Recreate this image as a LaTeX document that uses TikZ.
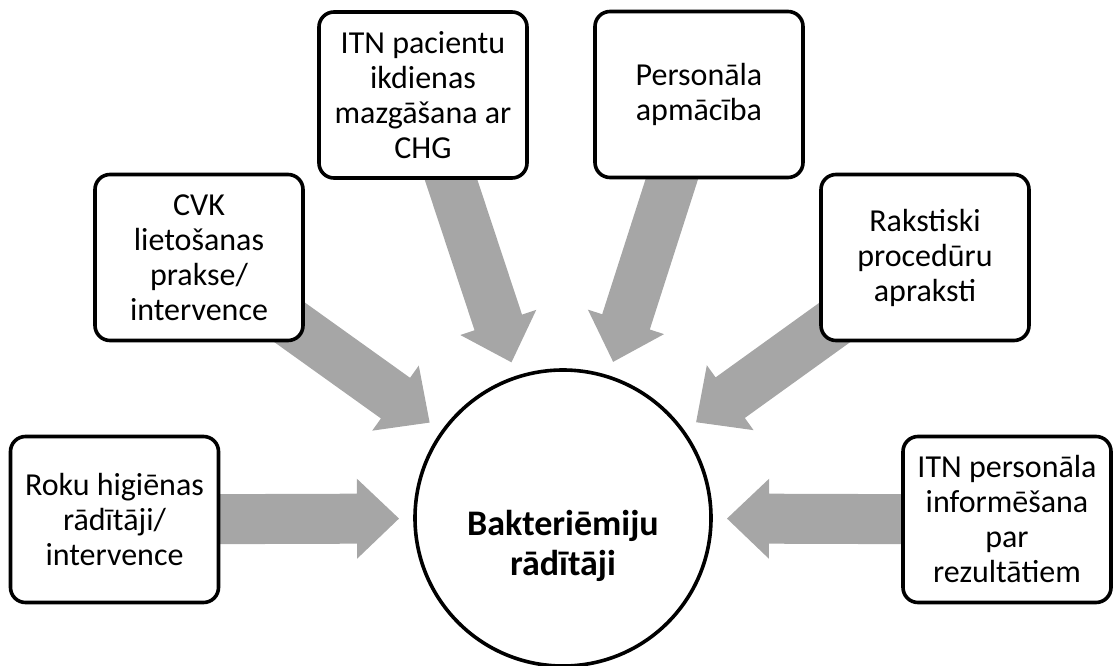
\documentclass[tikz,border=0pt]{standalone}
\usepackage{fontspec}
\setmainfont{Carlito}
\usetikzlibrary{calc}
\pgfdeclarelayer{bg}
\pgfsetlayers{bg,main}
\definecolor{arrowgray}{RGB}{166,166,166}
\tikzset{
  boxnode/.style={draw=black, line width=3.6pt, fill=white, rounded corners=15pt,
    minimum width=208pt, minimum height=166pt, inner sep=0pt, align=center,
    font=\fontsize{32pt}{35pt}\selectfont},
  hubnode/.style={draw=black, line width=3.6pt, fill=white, circle, minimum size=296pt, inner sep=0pt},
  hubtext/.style={align=center, font=\fontsize{36pt}{40pt}\selectfont\bfseries},
  arrowfill/.style={fill=arrowgray}
}
\newcommand\blockarrow[2]{%
  \pgfmathanglebetweenpoints{\pgfpointanchor{#1}{center}}{\pgfpointanchor{#2}{center}}%
  \edef\myang{\pgfmathresult}%
  \begin{pgfonlayer}{bg}
  \begin{scope}[shift={(#2)}, rotate=\myang]
    \fill[arrowfill] (0pt,0pt) -- (-42pt,40pt) -- (-42pt,25pt) -- (-250pt,25pt)
      -- (-250pt,-25pt) -- (-42pt,-25pt) -- (-42pt,-40pt) -- cycle;
  \end{scope}
  \end{pgfonlayer}}
\begin{document}
\begin{tikzpicture}[x=1pt,y=-1pt]
\useasboundingbox (0,0) rectangle (1113,666);
\node[hubnode] (c) at (563,518) {};
\node[hubtext] (ct) at (563,546) {Bakteriēmiju\\rādītāji};
\node[boxnode] (b1) at (114.5,519.5) {Roku higiēnas\\rādītāji/\\intervence};
\node[boxnode] (b2) at (199,257.5) {CVK\\lietošanas\\prakse/\\intervence};
\node[boxnode] (b3) at (423,95) {ITN pacientu\\ikdienas\\mazgāšana ar\\CHG};
\node[boxnode] (b4) at (699,94.5) {Personāla\\apmācība};
\node[boxnode] (b5) at (925,257.5) {Rakstiski\\procedūru\\apraksti};
\node[boxnode] (b6) at (1007,519.5) {ITN personāla\\informēšana\\par\\rezultātiem};
\foreach \i in {1,...,6}{
  \coordinate (t\i) at ($(c)!164pt!(b\i)$);
  \blockarrow{b\i}{t\i}
}
\end{tikzpicture}
\end{document}
